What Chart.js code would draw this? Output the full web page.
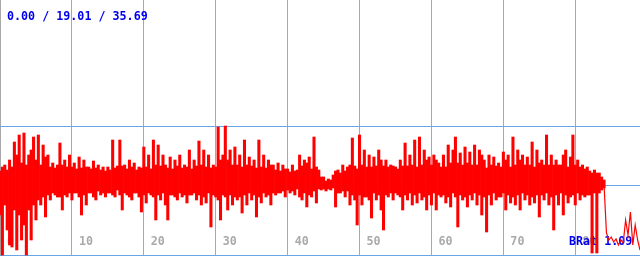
<!DOCTYPE html>
<html>
<head>
<meta charset="utf-8">
<script src="https://cdn.jsdelivr.net/npm/chart.js@4/dist/chart.umd.min.js"></script>
<style>
  body { margin: 0; background: #fff; }
  #wrap { width: 640px; height: 256px; position: relative; }
</style>
</head>
<body>
<div id="wrap"><canvas id="sig"></canvas></div>
<script>
// x tick labels and the readouts printed on the chart
const xTicks = [0, 10, 20, 30, 40, 50, 60, 70, 80];
const stats = ['0.00', '19.01', '35.69'];
const bratLabel = 'BRat 1.09';
const hLines = [-70, 0, 59];
const step = 1 / 3; // x distance between samples

// per-sample maximum (above the centre line)
const highs = [
  14, 18, 20, 15, 25,  18, 43, 30, 50, 22,   52, 20, 30, 35, 48,   25, 50, 20, 40, 28,
  30, 18, 22, 17, 20,  42, 20, 25, 18, 30,   18, 22, 16, 28, 17,   25, 18, 18, 16, 24,
  17, 20, 15, 18, 14,  18, 15, 45, 17, 19,   45, 19, 20, 16, 25,   18, 22, 15, 18, 17,
  38, 18, 30, 16, 45,  20, 40, 19, 30, 20,   17, 28, 16, 25, 19,   30, 17, 20, 18, 35,
  16, 25, 19, 44, 20,  35, 18, 30, 17, 20,   18, 58, 25, 30, 59,   25, 35, 20, 38, 20,
  30, 18, 45, 20, 28,  19, 25, 17, 45, 18,   30, 17, 25, 20, 20,   15, 22, 14, 20, 16,
  16, 13, 20, 14, 15,  30, 19, 25, 22, 28,   16, 48, 18, 15, 8,    8, 4, 6, 5, 10,
  14, 15, 12, 20, 14,  18, 20, 47, 19, 16,   50, 20, 35, 18, 30,   18, 28, 19, 35, 25,
  19, 25, 18, 20, 19,  18, 16, 25, 19, 42,   19, 30, 20, 45, 18,   48, 20, 35, 25, 28,
  20, 30, 25, 22, 18,  30, 18, 40, 22, 35,   48, 22, 32, 20, 38,   22, 33, 20, 40, 20,
  35, 30, 25, 17, 30,  20, 28, 19, 22, 18,   33, 25, 30, 18, 48,   20, 35, 25, 30, 20,
  28, 20, 43, 18, 35,  22, 25, 20, 50, 20,   30, 20, 25, 20, 20,   30, 35, 18, 28, 50,
  20, 25, 18, 20, 16,  18, 14, 12, 15, 12,   12, 8, 5
];

// per-sample minimum (below the centre line)
const lows = [
  -30, -70, -20, -45, -60,  -62, -25, -65, -30, -55,  -40, -70, -25, -55, -20,  -35, -15, -20, -12, -32,
  -10, -15, -8, -10, -12,   -12, -25, -10, -12, -8,   -15, -8, -8, -12, -30,   -10, -20, -8, -8, -12,
  -15, -6, -10, -8, -12,    -8, -8, -10, -12, -5,     -10, -25, -8, -10, -12,  -15, -8, -8, -12, -27,
  -10, -18, -8, -10, -12,   -35, -10, -15, -8, -20,   -35, -10, -10, -12, -15, -8, -12, -10, -18, -10,
  -10, -8, -15, -10, -20,   -12, -18, -8, -42, -10,   -12, -15, -35, -10, -12, -25, -10, -20, -12, -15,
  -12, -28, -10, -20, -8,   -15, -10, -32, -12, -18,  -8, -12, -10, -20, -8,   -10, -8, -8, -6, -12,
  -5, -8, -6, -10, -4,      -12, -15, -8, -22, -10,   -12, -6, -18, -4, -5,   -4, -6, -4, -5, -3,
  -22, -8, -8, -6, -12,     -6, -20, -10, -15, -40,   -10, -20, -12, -12, -15, -33, -8, -15, -10, -25,
  -45, -10, -12, -8, -15,   -8, -10, -12, -25, -10,   -15, -8, -20, -10, -18,  -8, -15, -12, -25, -10,
  -20, -8, -25, -10, -12,   -10, -18, -12, -22, -8,   -12, -42, -10, -15, -12, -22, -10, -15, -8, -20,
  -10, -30, -12, -47, -10,  -20, -8, -15, -12, -12,   -8, -25, -10, -18, -12,  -20, -10, -25, -8, -15,
  -10, -20, -12, -18, -10,  -32, -10, -15, -8, -20,   -12, -45, -10, -20, -8,  -30, -10, -18, -12, -10,
  -20, -8, -15, -10, -12,   -10, -10, -68, -8, -68,   -8, -5, -3
];

// trailing section after the drop
const tail = [-48, -55, -52, -57, -54, -60, -55, -58, -35, -50, -27, -60, -40, -55, -65];

const mono = "'DejaVu Sans Mono', 'Liberation Mono', monospace";

const overlayText = {
  id: 'overlayText',
  beforeDatasetsDraw(chart) {
    const ctx = chart.ctx;
    const x = chart.scales.x;
    ctx.save();
    ctx.font = 'bold 11.7px ' + mono;
    ctx.textBaseline = 'alphabetic';
    ctx.textAlign = 'left';
    ctx.fillStyle = '#aaaaaa';
    xTicks.forEach(v => ctx.fillText(String(v), x.getPixelForValue(v) + 7, 245));
    ctx.fillStyle = '#0000ee';
    ctx.fillText(bratLabel, 569, 245);
    ctx.fillText(stats.join(' / '), 7, 19.5);
    ctx.restore();
  }
};

const mainPts = highs.map((h, i) => ({ x: i * step, y: [lows[i], h] }));
const n = highs.length;
const tailPts = [{ x: (n - 1) * step, y: 0 }].concat(tail.map((v, i) => ({ x: (n + i) * step, y: v })));

new Chart(document.getElementById('sig'), {
  type: 'bar',
  data: {
    datasets: [
      {
        type: 'bar',
        data: mainPts,
        backgroundColor: '#ff0000',
        borderWidth: 0,
        barPercentage: 1,
        categoryPercentage: 1
      },
      {
        type: 'line',
        data: tailPts,
        borderColor: '#ff0000',
        borderWidth: 1.2,
        pointRadius: 0,
        tension: 0,
        fill: false
      }
    ]
  },
  options: {
    responsive: true,
    maintainAspectRatio: false,
    animation: false,
    layout: { padding: 0 },
    plugins: { legend: { display: false }, tooltip: { enabled: false } },
    scales: {
      x: {
        type: 'linear',
        min: 0,
        max: 89,
        offset: false,
        ticks: { display: false, stepSize: 10 },
        border: { display: false },
        grid: { color: '#a8a8a8', drawTicks: false, offset: false }
      },
      y: {
        min: -71,
        max: 185,
        z: 1,
        afterBuildTicks: s => { s.ticks = hLines.map(v => ({ value: v })); },
        ticks: { display: false },
        border: { display: false },
        grid: { color: '#6aa5e5', drawTicks: false }
      }
    }
  },
  plugins: [overlayText]
});
</script>
</body>
</html>
